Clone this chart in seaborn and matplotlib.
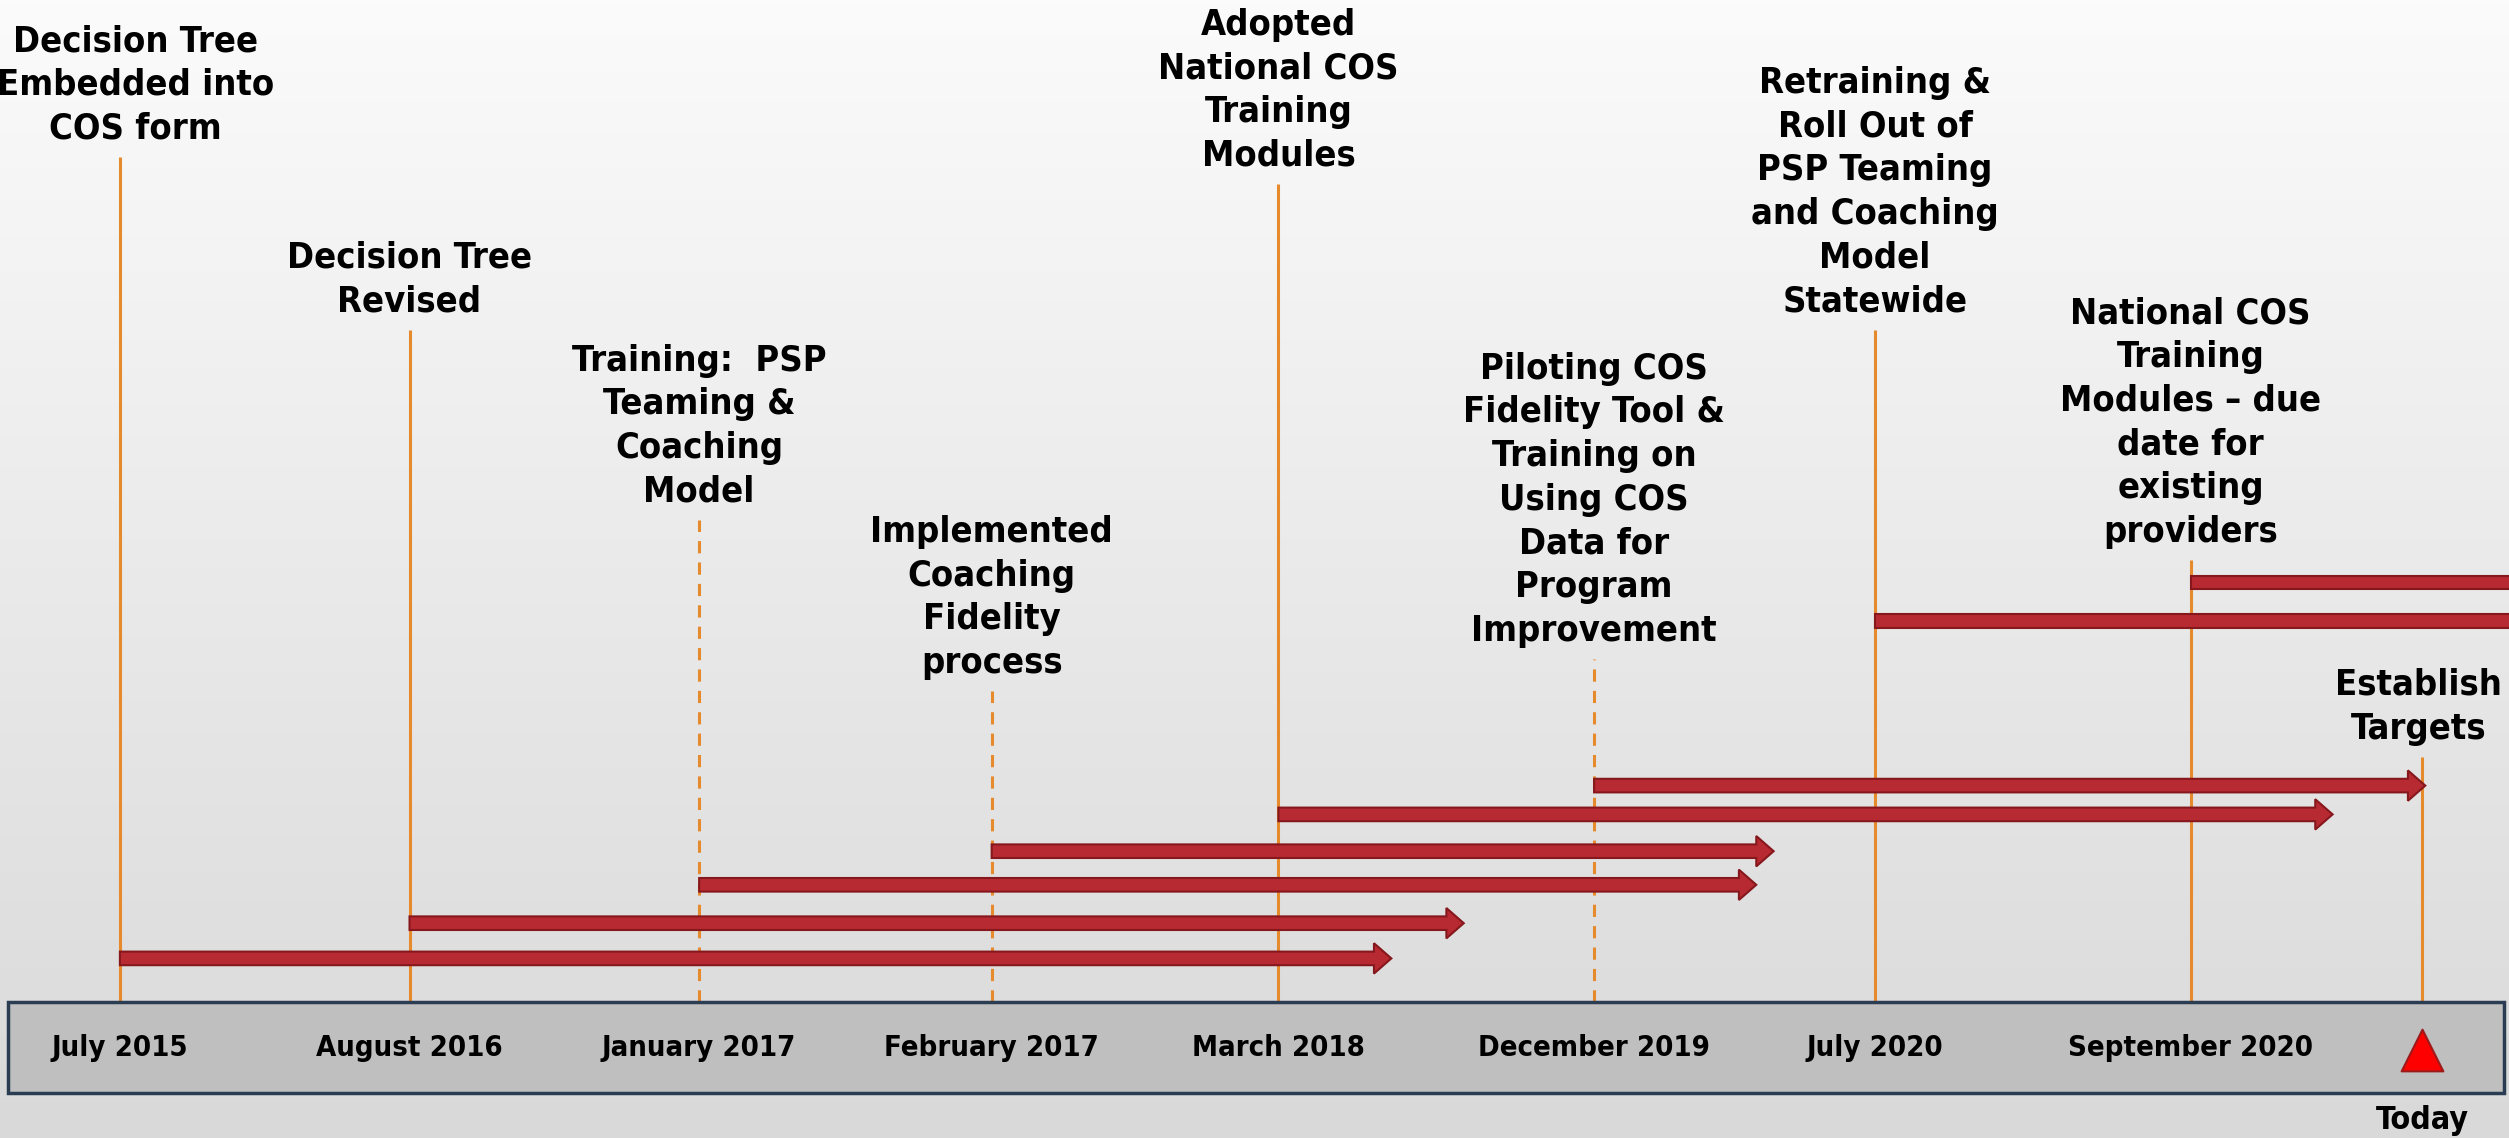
import numpy as np
import matplotlib.pyplot as plt
from matplotlib import font_manager
from matplotlib.patches import FancyArrow, Rectangle
import seaborn as sns

# timeline milestones (positions are timeline slots, not true dates)
milestone_dates = ["July 2015", "August 2016", "January 2017", "February 2017", "March 2018",
                   "December 2019", "July 2020", "September 2020", ""]
milestone_events = [
    "Decision Tree\nEmbedded into\nCOS form",
    "Decision Tree\nRevised",
    "Training:  PSP\nTeaming &\nCoaching\nModel",
    "Implemented\nCoaching\nFidelity\nprocess",
    "Adopted\nNational COS\nTraining\nModules",
    "Piloting COS\nFidelity Tool &\nTraining on\nUsing COS\nData for\nProgram\nImprovement",
    "Retraining &\nRoll Out of\nPSP Teaming\nand Coaching\nModel\nStatewide",
    "National COS\nTraining\nModules \u2013 due\ndate for\nexisting\nproviders",
    "Establish\nTargets",
]
milestone_pos = [0.0, 1.0, 2.0, 3.01, 4.0, 5.09, 6.06, 7.15, 7.95]
stem_top = [5.28, 4.20, 3.01, 1.94, 5.11, 2.14, 4.20, 2.76, 1.53]
stem_dashed = [False, False, True, True, False, True, False, False, False]

# activity bars: start at a milestone, run to an end slot
bar_start = [0.0, 1.0, 2.0, 3.01, 4.0, 5.09, 6.06, 7.15]
bar_end = [4.39, 4.64, 5.65, 5.71, 7.64, 7.96, 8.6, 8.6]
bar_level = [0.27, 0.49, 0.73, 0.94, 1.17, 1.35, 2.38, 2.62]
bar_arrow = [True, True, True, True, True, True, False, False]

today_pos = [7.95]
today_label = "Today"

sns.set_style("white")
plt.rcParams['font.family'] = ['DejaVu Sans']


def pick_narrow_font():
    # look for a condensed bold face among the installed fonts
    best = None
    for f in font_manager.fontManager.ttflist:
        name = f.name.lower()
        fn = f.fname.lower()
        narrow = ('narrow' in name or 'condensed' in name or 'narrow' in fn
                  or 'condensed' in fn or f.stretch in ('condensed', 'semi-condensed',
                                                         'extra-condensed'))
        if not narrow:
            continue
        w = f.weight if isinstance(f.weight, int) else 700 if 'bold' in str(f.weight) else 400
        score = abs(w - 700) + (0 if 'italic' not in fn and f.style == 'normal' else 1000)
        if 'extra' in fn or 'ultra' in fn:
            score += 50
        if best is None or score < best[0]:
            best = (score, f.fname)
    if best is None:
        return font_manager.FontProperties(family='DejaVu Sans', weight='bold')
    return font_manager.FontProperties(fname=best[1])


fp = pick_narrow_font()

fig = plt.figure(figsize=(25.09, 11.38), dpi=100)
ax = fig.add_axes([0, 0, 1, 1])
ax.set_xlim(-0.414, 8.249)
ax.set_ylim(-0.8525, 6.26)
ax.axis('off')

# background gradient
grad = np.linspace(0, 1, 256).reshape(-1, 1)
ax.imshow(grad, extent=[-0.414, 8.249, -0.8525, 6.26], origin='lower',
          cmap=sns.blend_palette(["#d9d9d9", "#fbfbfb"], as_cmap=True),
          aspect='auto', zorder=0)

orange = "#e68a2e"
for x, top, dashed in zip(milestone_pos, stem_top, stem_dashed):
    ax.vlines(x, 0, top, color=orange, lw=2.2,
              linestyles=(0, (4, 3)) if dashed else 'solid', zorder=2)

# first label nudged right so it stays inside the picture
label_dx = [11, 0, 0, 0, 0, 0, 0, 0, -3]
for x, top, txt, dx in zip(milestone_pos, stem_top, milestone_events, label_dx):
    ax.annotate(txt, (x, top), xytext=(dx, 8), textcoords='offset points',
                ha='center', va='bottom', fontproperties=fp, fontsize=26,
                linespacing=1.36, color='black', zorder=5)

for s, e, y, head in zip(bar_start, bar_end, bar_level, bar_arrow):
    ax.add_patch(FancyArrow(s, y, e - s, 0, width=0.085,
                            head_width=0.19 if head else 0.085,
                            head_length=0.06 if head else 0.0,
                            length_includes_head=True,
                            facecolor="#b72a31", edgecolor="#86181d",
                            lw=1.5, zorder=4))

# bottom band with dates
ax.add_patch(Rectangle((-0.387, -0.57), 8.619, 0.57, facecolor="#bfbfbf",
                       edgecolor="#2b3d52", lw=2.5, zorder=3))
for x, d in zip(milestone_pos, milestone_dates):
    ax.text(x, -0.29, d, ha='center', va='center', fontproperties=fp,
            fontsize=21, color='black', zorder=5)

sns.scatterplot(x=today_pos, y=[-0.30], marker='^', s=900, color="#ff0000",
                edgecolor="#9c1a1a", linewidth=1.5, ax=ax, zorder=6, legend=False)
ax.text(today_pos[0], -0.745, today_label, ha='center', va='center',
        fontproperties=fp, fontsize=23, color='black', zorder=5)

ax.set_xlim(-0.414, 8.249)
ax.set_ylim(-0.8525, 6.26)
fig.savefig("out.png", dpi=100)
